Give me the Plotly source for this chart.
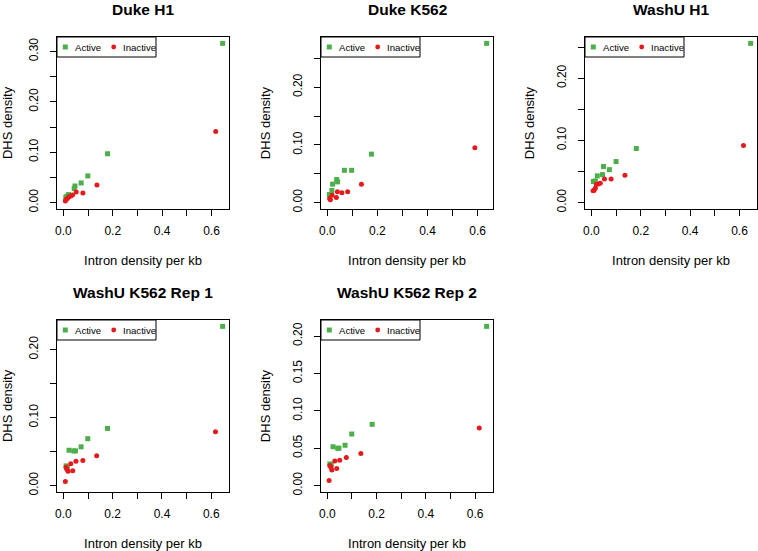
import plotly.graph_objects as go

# ---------------- data ----------------
titles = ["Duke H1", "Duke K562", "WashU H1", "WashU K562 Rep 1", "WashU K562 Rep 2"]

duke_h1_active_x = [0.645, 0.179, 0.099, 0.072, 0.047, 0.044, 0.021, 0.015, 0.010]
duke_h1_active_y = [0.316, 0.097, 0.053, 0.039, 0.033, 0.028, 0.016, 0.013, 0.011]
duke_h1_inactive_x = [0.617, 0.136, 0.079, 0.052, 0.037, 0.030, 0.022, 0.016, 0.011, 0.008]
duke_h1_inactive_y = [0.141, 0.035, 0.019, 0.021, 0.015, 0.013, 0.011, 0.008, 0.006, 0.003]

duke_k562_active_x = [0.636, 0.176, 0.097, 0.068, 0.037, 0.041, 0.021, 0.018, 0.008]
duke_k562_active_y = [0.276, 0.084, 0.056, 0.056, 0.040, 0.036, 0.032, 0.021, 0.014]
duke_k562_inactive_x = [0.589, 0.136, 0.081, 0.058, 0.040, 0.036, 0.019, 0.012, 0.009]
duke_k562_inactive_y = [0.095, 0.032, 0.019, 0.017, 0.019, 0.009, 0.013, 0.005, 0.007]

washu_h1_active_x = [0.645, 0.182, 0.100, 0.073, 0.049, 0.045, 0.024, 0.016, 0.008]
washu_h1_active_y = [0.256, 0.087, 0.066, 0.053, 0.058, 0.045, 0.043, 0.035, 0.034]
washu_h1_inactive_x = [0.616, 0.136, 0.080, 0.053, 0.036, 0.028, 0.020, 0.016, 0.011, 0.007]
washu_h1_inactive_y = [0.092, 0.044, 0.038, 0.038, 0.031, 0.030, 0.029, 0.023, 0.020, 0.019]

washu_k562_r1_active_x = [0.646, 0.179, 0.099, 0.072, 0.049, 0.042, 0.023, 0.011, 0.016]
washu_k562_r1_active_y = [0.234, 0.084, 0.069, 0.057, 0.051, 0.051, 0.052, 0.029, 0.027]
washu_k562_r1_inactive_x = [0.617, 0.135, 0.079, 0.051, 0.030, 0.038, 0.019, 0.014, 0.011, 0.008]
washu_k562_r1_inactive_y = [0.079, 0.044, 0.037, 0.036, 0.032, 0.022, 0.021, 0.024, 0.027, 0.006]

washu_k562_r2_active_x = [0.647, 0.182, 0.099, 0.072, 0.047, 0.042, 0.023, 0.010, 0.016]
washu_k562_r2_active_y = [0.213, 0.082, 0.069, 0.054, 0.050, 0.050, 0.052, 0.029, 0.028]
washu_k562_r2_inactive_x = [0.617, 0.136, 0.077, 0.050, 0.030, 0.038, 0.018, 0.014, 0.010, 0.007]
washu_k562_r2_inactive_y = [0.077, 0.043, 0.0375, 0.034, 0.033, 0.023, 0.021, 0.025, 0.027, 0.007]

x_tickvals = [0.0, 0.1, 0.2, 0.3, 0.4, 0.5, 0.6]
x_ticktext = ["0.0", "", "0.2", "", "0.4", "", "0.6"]

y_tickvals_list = [
    [0.0, 0.05, 0.10, 0.15, 0.20, 0.25, 0.30],
    [0.0, 0.05, 0.10, 0.15, 0.20, 0.25],
    [0.0, 0.05, 0.10, 0.15, 0.20, 0.25],
    [0.0, 0.05, 0.10, 0.15, 0.20],
    [0.0, 0.05, 0.10, 0.15, 0.20],
]
y_ticktext_list = [
    ["0.00", "", "0.10", "", "0.20", "", "0.30"],
    ["0.00", "", "0.10", "", "0.20", ""],
    ["0.00", "", "0.10", "", "0.20", ""],
    ["0.00", "", "0.10", "", "0.20"],
    ["0.00", "0.05", "0.10", "0.15", "0.20"],
]

x_title = "Intron density per kb"
y_title = "DHS density"
series_names = ["Active", "Inactive"]

panels = [
    (duke_h1_active_x, duke_h1_active_y, duke_h1_inactive_x, duke_h1_inactive_y),
    (duke_k562_active_x, duke_k562_active_y, duke_k562_inactive_x, duke_k562_inactive_y),
    (washu_h1_active_x, washu_h1_active_y, washu_h1_inactive_x, washu_h1_inactive_y),
    (washu_k562_r1_active_x, washu_k562_r1_active_y, washu_k562_r1_inactive_x, washu_k562_r1_inactive_y),
    (washu_k562_r2_active_x, washu_k562_r2_active_y, washu_k562_r2_inactive_x, washu_k562_r2_inactive_y),
]

# ---------------- style / layout ----------------
W, H = 758, 551
GREEN = "#4DAF4A"
RED = "#E41A1C"
FONT = "Liberation Sans, Arial, Helvetica, sans-serif"
BOX = 172
col_left = [57, 321, 585]
row_top = [37, 320]
positions = [(0, 0), (0, 1), (0, 2), (1, 0), (1, 1)]

fig = go.Figure()
layout = dict(
    width=W, height=H, margin=dict(l=0, r=0, t=0, b=0),
    paper_bgcolor="white", plot_bgcolor="white", showlegend=False,
    font=dict(family=FONT, size=12, color="black"),
)
annotations = []
shapes = []


def r_range(vals):
    m = max(vals)
    return [0 - 0.04 * m, m * 1.04]


for i, ((ax, ay, ix, iy), (r, c)) in enumerate(zip(panels, positions)):
    n = i + 1
    xa = "x" if n == 1 else f"x{n}"
    ya = "y" if n == 1 else f"y{n}"
    left = col_left[c]
    top = row_top[r]
    xd = [left / W, (left + BOX) / W]
    yd = [1 - (top + BOX) / H, 1 - top / H]

    fig.add_trace(go.Scatter(x=ax, y=ay, mode="markers", name=series_names[0],
                             marker=dict(symbol="square", size=5, color=GREEN),
                             xaxis=xa, yaxis=ya, showlegend=False))
    fig.add_trace(go.Scatter(x=ix, y=iy, mode="markers", name=series_names[1],
                             marker=dict(symbol="circle", size=5, color=RED),
                             xaxis=xa, yaxis=ya, showlegend=False))

    axis_common = dict(showgrid=False, zeroline=False, showline=True, mirror=True,
                       linecolor="black", linewidth=1, ticks="outside", ticklen=6,
                       tickcolor="black", tickwidth=1, automargin=False,
                       tickfont=dict(family=FONT, size=12, color="black"))
    xkey = "xaxis" if n == 1 else f"xaxis{n}"
    ykey = "yaxis" if n == 1 else f"yaxis{n}"
    layout[xkey] = dict(axis_common, domain=xd, anchor=ya, range=r_range(ax + ix),
                        tickmode="array", tickvals=x_tickvals, ticktext=x_ticktext,
                        ticklabelstandoff=5,
                        title=dict(text=x_title, font=dict(family=FONT, size=13), standoff=18))
    layout[ykey] = dict(axis_common, domain=yd, anchor=xa, range=r_range(ay + iy),
                        tickmode="array", tickvals=y_tickvals_list[i], ticktext=y_ticktext_list[i],
                        tickangle=-90, ticklabelstandoff=7,
                        title=dict(text=y_title, font=dict(family=FONT, size=13), standoff=17))

    xdom = f"{xa} domain"
    ydom = f"{ya} domain"
    # panel title
    annotations.append(dict(text=f"<b>{titles[i]}</b>", xref=xdom, yref=ydom,
                            x=0.5, y=1 + 28 / BOX, xanchor="center", yanchor="middle",
                            showarrow=False, font=dict(family=FONT, size=15.5, color="black")))
    # legend box
    shapes.append(dict(type="rect", xref=xdom, yref=ydom, x0=0, x1=99 / BOX,
                       y0=1 - 20 / BOX, y1=1, line=dict(color="black", width=1),
                       fillcolor="white", layer="above"))
    cy = 1 - 10 / BOX
    s = 2.5 / BOX
    gx = 8.3 / BOX
    shapes.append(dict(type="rect", xref=xdom, yref=ydom, x0=gx - s, x1=gx + s,
                       y0=cy - s, y1=cy + s, line=dict(width=0), fillcolor=GREEN, layer="above"))
    rx = 56.7 / BOX
    rr = 2.4 / BOX
    shapes.append(dict(type="circle", xref=xdom, yref=ydom, x0=rx - rr, x1=rx + rr,
                       y0=cy - rr, y1=cy + rr, line=dict(width=0), fillcolor=RED, layer="above"))
    annotations.append(dict(text=series_names[0], xref=xdom, yref=ydom, x=15.5 / BOX, y=cy,
                            xanchor="left", yanchor="middle", showarrow=False,
                            font=dict(family=FONT, size=9.6, color="black")))
    annotations.append(dict(text=series_names[1], xref=xdom, yref=ydom, x=63.5 / BOX, y=cy,
                            xanchor="left", yanchor="middle", showarrow=False,
                            font=dict(family=FONT, size=9.6, color="black")))

layout["annotations"] = annotations
layout["shapes"] = shapes
fig.update_layout(**layout)
fig.write_html("out.html", config={"displayModeBar": False, "staticPlot": True},
               post_script="document.body.style.margin='0px';document.body.style.overflow='hidden';")
